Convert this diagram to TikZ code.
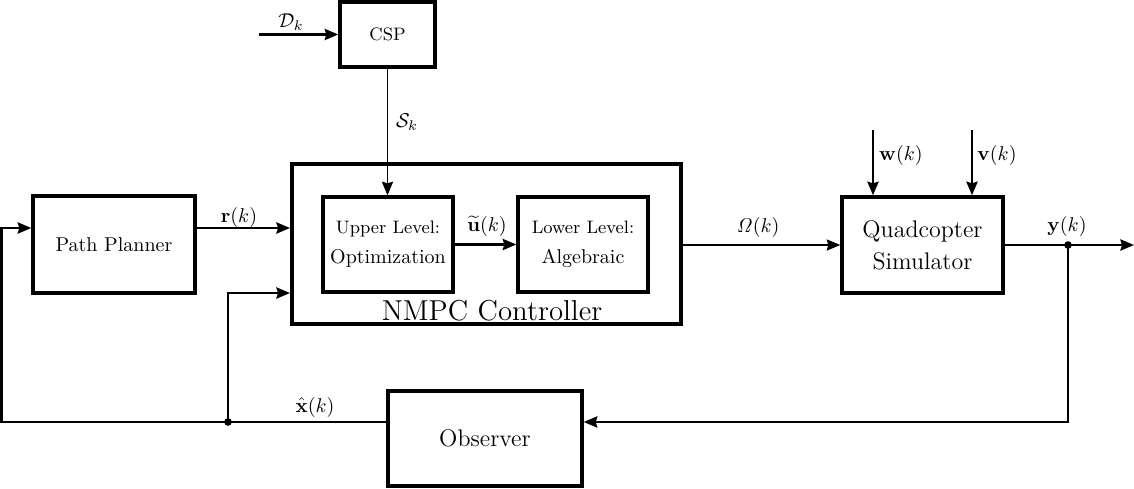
\documentclass[tikz,border=0pt]{standalone}
\usepackage{amsmath}
\usetikzlibrary{arrows.meta}
\begin{document}
\begin{tikzpicture}[x=0.5pt,y=-0.5pt,
  tip/.style={-{Stealth[length=6.8pt,width=5.6pt,inset=0.8pt]}},
  blk/.style={draw, line width=1.7pt, inner sep=0pt, align=center},
  conn/.style={line width=1.15pt, tip},
  thinconn/.style={line width=0.7pt, tip},
  dotnode/.style={circle, fill=black, inner sep=0pt, minimum size=3.8pt},
  lbl/.style={inner sep=0pt}
]
\useasboundingbox (0,0) rectangle (1134,488);

% blocks
\node[blk, minimum width=47.5pt, minimum height=32.5pt, font=\small] (csp) at (387.5,34.5) {CSP};
\node[blk, minimum width=81pt, minimum height=48.5pt] (plan) at (114,244.5) {Path Planner};
\node[blk, line width=2pt, minimum width=194.5pt, minimum height=80pt] (nmpc) at (486.5,244) {};
\node[anchor=base, font=\Large, inner sep=0pt] (nmpclab) at (492,320) {NMPC Controller};
\node[blk, minimum width=65pt, minimum height=47.5pt] (upper) at (388,244.5) {{\small Upper Level:}\\[3pt] Optimization};
\node[blk, minimum width=65pt, minimum height=47.5pt] (lower) at (583,244.5) {{\small Lower Level:}\\[3pt] Algebraic};
\node[blk, minimum width=80.5pt, minimum height=48pt, font=\large] (quad) at (922.5,245) {Quadcopter\\[2pt] Simulator};
\node[blk, minimum width=97pt, minimum height=47.5pt, font=\large] (obs) at (485,438.5) {Observer};

% helper coordinates
\coordinate (dk) at (259,34.5);
\coordinate (rl) at (0,228);
\coordinate (l2) at (0,293);
\coordinate (wtop) at (873,130);
\coordinate (vtop) at (972,130);
\coordinate (yend) at (1134,245);
\coordinate (lb) at (1.5,422);
\node[dotnode] (ydot) at (1068,245) {};
\node[dotnode] (xdot) at (228,422) {};

% connectors
\draw[conn] (dk) -- (csp.west);
\draw[thinconn] (csp.south) -- (csp.south |- upper.north);
\draw[conn] (upper.east) -- (lower.west);
\draw[conn] (plan.east |- rl) -- (nmpc.west |- rl);
\draw[conn] (xdot.center) |- (nmpc.west |- l2);
\draw[thinconn] (nmpc.east |- quad.west) -- (quad.west);
\draw[conn] (wtop) -- (wtop |- quad.north);
\draw[conn] (vtop) -- (vtop |- quad.north);
\draw[conn] (quad.east) -- (yend);
\draw[conn] (ydot.center) -- (ydot.center |- xdot) -- (obs.east |- xdot);
\draw[conn] (obs.west |- xdot) -- (lb) |- (plan.west |- rl);

% labels
\node[lbl] (dklab) at (291,22) {$\mathcal{D}_k$};
\node[lbl] (sklab) at (407,122) {$\mathcal{S}_k$};
\node[lbl] (ulab) at (487,226) {$\widetilde{\mathbf{u}}(k)$};
\node[lbl] (rlab) at (239,217) {$\mathbf{r}(k)$};
\node[lbl] (omlab) at (758,227) {$\mathit{\Omega}(k)$};
\node[lbl] (ylab) at (1067,226) {$\mathbf{y}(k)$};
\node[lbl] (xlab) at (315,407) {$\hat{\mathbf{x}}(k)$};
\node[lbl] (wlab) at (901,155) {$\mathbf{w}(k)$};
\node[lbl] (vlab) at (997,155) {$\mathbf{v}(k)$};
\end{tikzpicture}
\end{document}
